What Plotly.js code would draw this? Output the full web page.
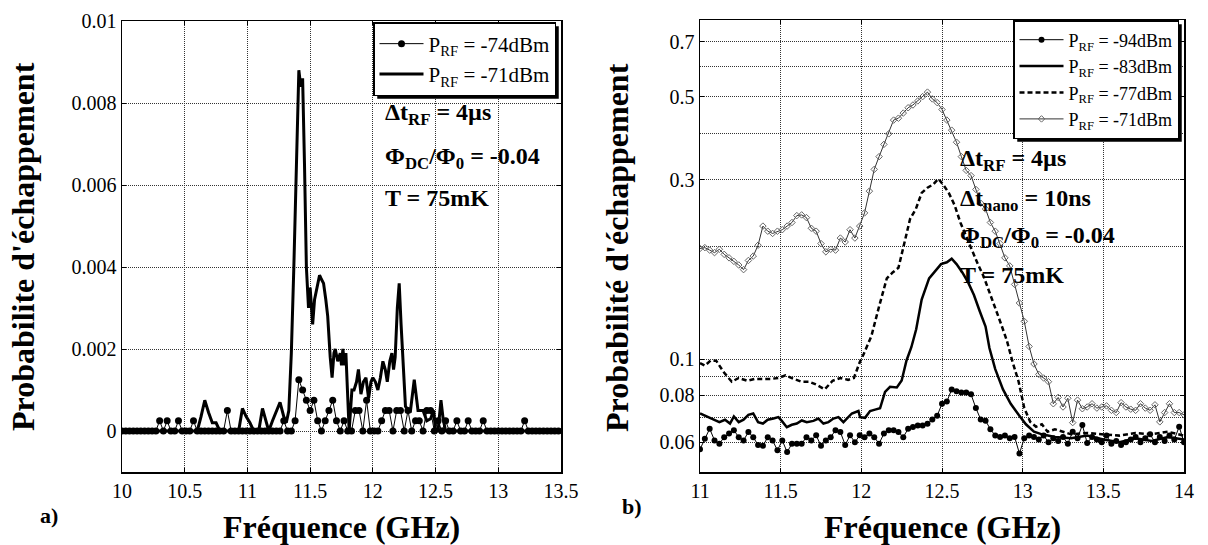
<!DOCTYPE html>
<html><head><meta charset="utf-8">
<script src="https://cdn.plot.ly/plotly-3.0.1.min.js"></script>
<style>html,body{margin:0;padding:0;background:#fff}#chart{width:1208px;height:545px}</style>
</head><body><div id="chart"></div>
<script>
// ===== Panel a) data (probability vs frequency in GHz) =====
const aFreqStart = 10.0;   // first frequency of the -74 dBm sweep
const aFreqStep = 0.03;    // sweep step (GHz)
const aP74 = [0,0,0,0,0,0,0,0,0,0,
  0.00025,0,0.00025,0,0,0.00025,0,0,0,0.00025,
  0,0,0,0,0,0,0,0,0.0005,0,
  0,0,0,0,0,0,0,0,0,0,
  0,0,0,0.00025,0,0,0.00025,0.00125,0.001,0.00075,
  0.0005,0.00075,0.00025,0,0.00025,0.0005,0.00075,0.00025,0,0.00025,
  0,0,0.0005,0.0005,0,0.00075,0,0,0,0.00025,
  0.0005,0.0005,0,0.0005,0.0005,0,0.0005,0,0.00025,0.00025,
  0,0.0005,0.0005,0,0.00025,0,0.00025,0,0,0.00025,
  0,0,0.00025,0,0,0,0.00025,0,0,0,
  0,0,0,0,0,0,0,0.00025,0,0,
  0,0,0,0,0,0,0];
const aP71Freq = [10.00,10.60,10.63,10.66,10.69,10.72,10.75,10.78,10.93,10.96,10.99,11.02,11.05,11.09,11.12,11.15,11.17,11.20,11.23,11.26,11.29,11.31,11.33,11.35,11.37,11.39,11.41,11.425,11.44,11.455,11.47,11.487,11.50,11.52,11.535,11.555,11.575,11.59,11.607,11.625,11.64,11.66,11.675,11.69,11.70,11.72,11.74,11.75,11.761,11.775,11.785,11.798,11.811,11.833,11.85,11.87,11.885,11.905,11.925,11.945,11.966,11.985,12.00,12.02,12.04,12.06,12.08,12.099,12.115,12.135,12.152,12.165,12.178,12.195,12.21,12.225,12.245,12.26,12.272,12.30,12.33,12.345,12.36,12.40,12.43,12.46,12.485,12.50,12.52,12.543,12.56,12.58,13.50];
const aP71 = [0,0,0.00035,0.00075,0.00045,0.0002,0.0002,0,0,0.00055,0.00035,0.0002,0,0,0.00055,0.0002,0,0.00025,0.0005,0.0007,0.00035,0.0002,0.0005,0.0019,0.004,0.0068,0.0088,0.0084,0.0086,0.0065,0.004,0.003,0.0035,0.0026,0.0032,0.0035,0.0038,0.0037,0.0036,0.0032,0.0028,0.0018,0.0013,0.0019,0.002,0.0017,0.0019,0.0016,0.002,0.0016,0.0019,0.00095,0,0.001,0.001,0.0012,0.0015,0.0009,0.0012,0.0013,0.0008,0.0012,0.0013,0.0012,0.001,0.0013,0.0017,0.0015,0.0012,0.0017,0.0019,0.0015,0.0018,0.003,0.0036,0.0026,0.0015,0.0006,0.00055,0.0005,0.00125,0.0008,0.0005,0.0005,0.00025,0.0003,0.0005,0,0,0.00075,0.0003,0,0];

// ===== Panel b) data =====
const bFreqStart = 11.0;
const bFreqStep = 0.03;
const bP94 = [0.0575,0.0613,0.0652,0.0607,0.0595,0.0619,0.0633,0.0646,0.0619,0.0607,
  0.0639,0.0619,0.0590,0.0587,0.0619,0.0607,0.0571,0.0607,0.0565,0.0595,
  0.0595,0.0595,0.0619,0.0607,0.0626,0.0587,0.0607,0.0619,0.0646,0.0639,
  0.0590,0.0626,0.0600,0.0626,0.0619,0.0633,0.0619,0.0595,0.0633,0.0646,
  0.0646,0.0639,0.0619,0.0652,0.0659,0.0665,0.0665,0.0672,0.0690,0.0706,
  0.0760,0.0770,0.0830,0.0820,0.0814,0.0814,0.0805,0.0740,0.0690,0.0685,
  0.0650,0.0625,0.0620,0.0625,0.0615,0.0620,0.0560,0.0615,0.0625,0.0620,
  0.0610,0.0625,0.0600,0.0615,0.0605,0.0620,0.0595,0.0640,0.0615,0.0667,
  0.0597,0.0620,0.0610,0.0600,0.0625,0.0595,0.0605,0.0590,0.0600,0.0610,
  0.0620,0.0600,0.0615,0.0630,0.0600,0.0620,0.0605,0.0625,0.0610,0.0660,0.0600];
const bP71 = [0.197,0.198,0.195,0.192,0.196,0.190,0.186,0.182,0.178,0.173,
  0.183,0.188,0.201,0.226,0.219,0.216,0.219,0.221,0.226,0.231,
  0.241,0.242,0.238,0.223,0.219,0.203,0.193,0.196,0.195,0.210,
  0.205,0.221,0.210,0.226,0.245,0.280,0.320,0.346,0.373,0.398,
  0.433,0.438,0.452,0.467,0.475,0.487,0.500,0.514,0.493,0.482,
  0.462,0.433,0.407,0.378,0.346,0.318,0.308,0.283,0.260,0.251,
  0.231,0.219,0.203,0.186,0.177,0.158,0.141,0.126,0.108,0.097,
  0.091,0.089,0.087,0.076,0.079,0.0745,0.0786,0.0677,0.0777,0.0737,
  0.0745,0.0760,0.0740,0.0745,0.0750,0.0730,0.0720,0.0765,0.0745,0.0735,
  0.0730,0.0760,0.0740,0.0730,0.0755,0.0680,0.0720,0.0760,0.0720,0.0720,0.0710];
const bP83Freq = [11.00,11.03,11.06,11.12,11.155,11.186,11.21,11.24,11.27,11.30,11.33,11.36,11.39,11.42,11.455,11.486,11.507,11.538,11.569,11.60,11.631,11.662,11.703,11.734,11.765,11.796,11.827,11.858,11.889,11.91,11.941,11.982,11.992,12.023,12.054,12.085,12.116,12.147,12.178,12.22,12.25,12.28,12.31,12.34,12.374,12.42,12.458,12.494,12.53,12.56,12.59,12.626,12.662,12.698,12.734,12.77,12.794,12.83,12.878,12.926,12.975,13.02,13.07,13.12,13.2,13.3,13.4,13.5,13.6,13.7,13.8,13.9,14.0];
const bP83 = [0.0716,0.0706,0.0697,0.0679,0.0689,0.0673,0.0703,0.0679,0.0689,0.0710,0.0716,0.0679,0.0673,0.0689,0.0694,0.0700,0.0684,0.0658,0.0668,0.0673,0.0686,0.0679,0.0684,0.0694,0.0673,0.0679,0.0694,0.0700,0.0679,0.0694,0.0716,0.0727,0.0700,0.0697,0.0727,0.0733,0.0739,0.0817,0.0843,0.0840,0.0876,0.0991,0.1075,0.1200,0.144,0.164,0.171,0.179,0.181,0.185,0.179,0.170,0.160,0.148,0.134,0.122,0.107,0.094,0.083,0.076,0.071,0.067,0.064,0.063,0.062,0.0615,0.0625,0.061,0.060,0.0615,0.0605,0.062,0.061];
const bP77Freq = [11.00,11.03,11.065,11.10,11.149,11.197,11.24,11.293,11.34,11.389,11.44,11.485,11.53,11.581,11.63,11.677,11.72,11.773,11.822,11.87,11.918,11.954,11.99,12.014,12.062,12.11,12.158,12.194,12.23,12.266,12.302,12.338,12.374,12.41,12.446,12.477,12.506,12.542,12.578,12.614,12.65,12.686,12.722,12.758,12.794,12.83,12.866,12.902,12.938,12.975,13.01,13.047,13.083,13.119,13.155,13.2,13.3,13.4,13.5,13.6,13.7,13.8,13.9,14.0];
const bP77 = [0.0975,0.096,0.099,0.099,0.092,0.087,0.089,0.0875,0.0885,0.0885,0.0885,0.089,0.0905,0.0885,0.087,0.087,0.0855,0.083,0.0875,0.089,0.088,0.089,0.098,0.103,0.115,0.138,0.164,0.170,0.175,0.203,0.236,0.251,0.277,0.286,0.292,0.302,0.292,0.277,0.257,0.231,0.212,0.195,0.179,0.166,0.151,0.138,0.124,0.112,0.098,0.087,0.074,0.068,0.066,0.067,0.064,0.065,0.063,0.0635,0.063,0.0625,0.0635,0.063,0.064,0.0625];

// ===== Ticks and labels =====
const aXTicks = [10,10.5,11,11.5,12,12.5,13,13.5];
const aYTicks = [0,0.002,0.004,0.006,0.008,0.01];
const aYTickText = ['0','0.002','0.004','0.006','0.008','0.01'];
const bXTicks = [11,11.5,12,12.5,13,13.5,14];
const bYTicks = [0.06,0.08,0.1,0.3,0.5,0.7];
const bYTickText = ['0.06','0.08','0.1','0.3','0.5','0.7'];
const bYMinorTicks = [0.07,0.09,0.2,0.4,0.6];
const aNames = ['P<sub>RF</sub> = -74dBm','P<sub>RF</sub> = -71dBm'];
const bNames = ['P<sub>RF</sub> = -94dBm','P<sub>RF</sub> = -83dBm','P<sub>RF</sub> = -77dBm','P<sub>RF</sub> = -71dBm'];
const xTitle = 'Fréquence (GHz)';
const aYTitle = "Probabilite d'échappement";
const bYTitle = "Probabilité d'échappement";
const aNotes = ['Δt<sub>RF</sub> = 4µs','Φ<sub>DC</sub>/Φ<sub>0</sub> = -0.04','T = 75mK'];
const bNotes = ['Δt<sub>RF</sub> = 4µs','Δt<sub>nano</sub> = 10ns','Φ<sub>DC</sub>/Φ<sub>0</sub> = -0.04','T = 75mK'];

// ===== Layout helpers (pixel -> paper) =====
const W = 1208, H = 545;
const px = v => v / W;
const py = v => 1 - v / H;
const SERIF = 'Liberation Serif';

function axisStyle(extra) {
  return Object.assign({
    showline: true, linecolor: '#000', linewidth: 1.5, mirror: 'ticks',
    ticks: 'inside', ticklen: 4, tickcolor: '#000', tickwidth: 1,
    showgrid: true, gridcolor: '#333', gridwidth: 1, griddash: '1px,1px',
    zeroline: false, tickfont: {family: SERIF, size: 20, color: '#000'},
    fixedrange: true
  }, extra);
}
function note(x, y, text, size, extra) {
  return Object.assign({xref: 'paper', yref: 'paper', x: px(x), y: py(y), text: text,
    showarrow: false, xanchor: 'left', yanchor: 'middle',
    font: {family: SERIF, size: size, color: '#000', weight: 'bold'}}, extra || {});
}
// legend drop shadow (box given in pixels: left, top, right, bottom)
function shadow(l, t, r, b) {
  return {type: 'rect', xref: 'paper', yref: 'paper',
    x0: px(l + 3.5), x1: px(r + 3.5), y0: py(b + 3.5), y1: py(t + 3.5),
    fillcolor: '#000', line: {width: 0}, layer: 'above'};
}

const traces = [
  {x0: aFreqStart, dx: aFreqStep, y: aP74, name: aNames[0], mode: 'lines+markers',
   line: {color: '#000', width: 1}, marker: {color: '#000', size: 7},
   xaxis: 'x', yaxis: 'y', legend: 'legend'},
  {x: aP71Freq, y: aP71, name: aNames[1], mode: 'lines',
   line: {color: '#000', width: 3},
   xaxis: 'x', yaxis: 'y', legend: 'legend'},
  {x0: bFreqStart, dx: bFreqStep, y: bP94, name: bNames[0], mode: 'lines+markers',
   line: {color: '#000', width: 1}, marker: {color: '#000', size: 6},
   xaxis: 'x2', yaxis: 'y2', legend: 'legend2'},
  {x: bP83Freq, y: bP83, name: bNames[1], mode: 'lines',
   line: {color: '#000', width: 2.5},
   xaxis: 'x2', yaxis: 'y2', legend: 'legend2'},
  {x: bP77Freq, y: bP77, name: bNames[2], mode: 'lines',
   line: {color: '#000', width: 2.5, dash: '5px,3px'},
   xaxis: 'x2', yaxis: 'y2', legend: 'legend2'},
  {x0: bFreqStart, dx: bFreqStep, y: bP71, name: bNames[3], mode: 'lines+markers',
   line: {color: '#333', width: 1},
   marker: {symbol: 'diamond-open', size: 5, color: '#666', line: {width: 1, color: '#666'}},
   xaxis: 'x2', yaxis: 'y2', legend: 'legend2'}
];

const LEG_A_RIGHT = 556, LEG_A_TOP = 22, LEG_B_RIGHT = 1179, LEG_B_TOP = 20;
const gridLine01 = {type: 'line', xref: 'x2 domain', x0: 0, x1: 1, yref: 'y2', y0: Math.log10(0.1), y1: Math.log10(0.1),
  line: {color: '#000', width: 1}, layer: 'below'};  // solid major gridline at 0.1 (log axis -> log10 value)

const layout = {
  width: W, height: H, margin: {l: 0, r: 0, t: 0, b: 0},
  font: {family: SERIF, color: '#000'},
  paper_bgcolor: '#fff', plot_bgcolor: '#fff', showlegend: true,
  xaxis: axisStyle({domain: [px(122), px(561)], range: [10, 13.5], tickvals: aXTicks, anchor: 'y'}),
  yaxis: axisStyle({domain: [py(472), py(21)], range: [-0.001, 0.01], tickvals: aYTicks, ticktext: aYTickText, anchor: 'x'}),
  xaxis2: axisStyle({domain: [px(700), px(1184)], range: [11, 14], tickvals: bXTicks, anchor: 'y2'}),
  yaxis2: axisStyle({domain: [py(472), py(20)], type: 'log', range: [Math.log10(0.05), Math.log10(0.8)],
    tickvals: bYTicks, ticktext: bYTickText, anchor: 'x2',
    minor: {tickmode: 'array', tickvals: bYMinorTicks, showgrid: true, gridcolor: '#333', griddash: '1px,1px', gridwidth: 1, ticks: ''}}),
  legend: {x: px(LEG_A_RIGHT), xanchor: 'right', y: py(LEG_A_TOP), yanchor: 'top', bgcolor: '#fff',
    bordercolor: '#000', borderwidth: 1.5, itemwidth: 44,
    font: {family: SERIF, size: 21, color: '#000'}},
  legend2: {x: px(LEG_B_RIGHT), xanchor: 'right', y: py(LEG_B_TOP), yanchor: 'top', bgcolor: '#fff',
    bordercolor: '#000', borderwidth: 1.5, itemwidth: 44,
    font: {family: SERIF, size: 18, color: '#000'}},
  shapes: [gridLine01, shadow(378, 22, 556, 93), shadow(1019, 20, 1179, 137)],
  annotations: [
    note(383, 114, aNotes[0], 24), note(383, 158, aNotes[1], 24), note(383, 198, aNotes[2], 24),
    note(958, 160, bNotes[0], 24), note(958, 200, bNotes[1], 24), note(958, 237, bNotes[2], 24), note(958, 275, bNotes[3], 24),
    note(341, 527, xTitle, 32, {xanchor: 'center'}),
    note(942, 527, xTitle, 32, {xanchor: 'center'}),
    note(23, 247, aYTitle, 32, {xanchor: 'center', textangle: -90}),
    note(617, 248, bYTitle, 32, {xanchor: 'center', textangle: -90}),
    note(49, 515, 'a)', 22, {xanchor: 'center'}),
    note(632, 506, 'b)', 22, {xanchor: 'center'})
  ]
};

const gd = document.getElementById('chart');
Plotly.newPlot(gd, traces, layout, {staticPlot: true, displayModeBar: false}).then(function () {
  // refine the shadows from the legend boxes actually drawn, if they can be found
  try {
    const base = gd.getBoundingClientRect();
    const boxes = [];
    ['legend', 'legend2'].forEach(function (id) {
      const bg = gd.querySelector('g.' + id + ' > rect.bg') || gd.querySelector('g.' + id + ' rect.bg');
      if (!bg) return;
      const r = bg.getBoundingClientRect();
      if (r.width > 20 && r.height > 20)
        boxes.push(shadow(r.left - base.left, r.top - base.top, r.right - base.left, r.bottom - base.top));
    });
    if (boxes.length === 2) Plotly.relayout(gd, {shapes: [gridLine01].concat(boxes)});
  } catch (e) {}
});
</script></body></html>
